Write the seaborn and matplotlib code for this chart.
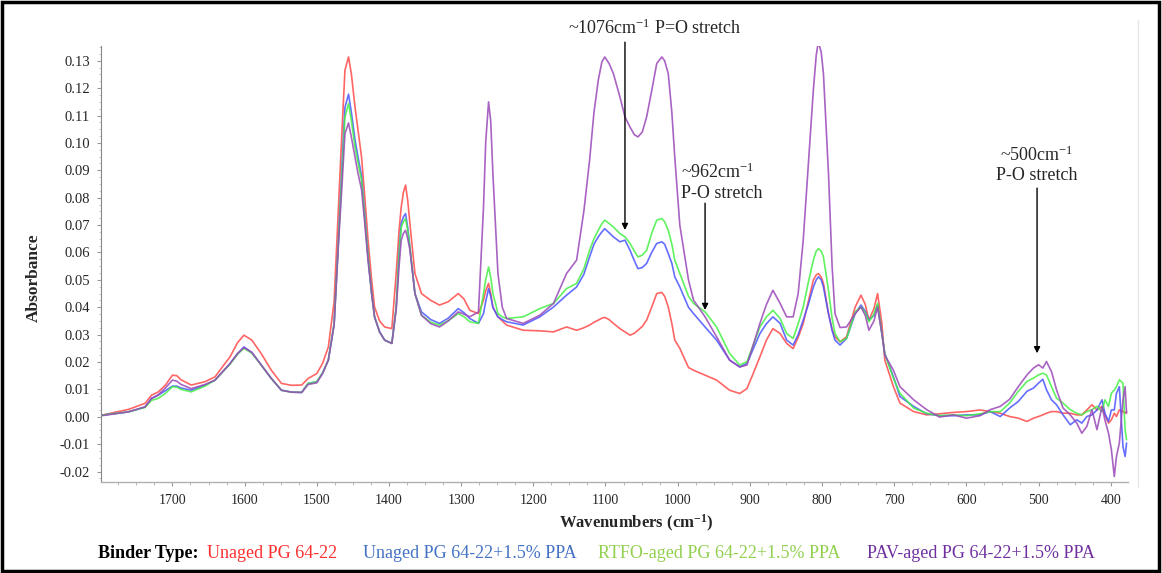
import numpy as np
import pandas as pd
import matplotlib
matplotlib.use("Agg")
import matplotlib.pyplot as plt
import seaborn as sns
from matplotlib.ticker import MultipleLocator, FixedLocator
from matplotlib.lines import Line2D
from matplotlib.patches import Rectangle

# ---------------- data ----------------
# rows: wavenumber, Unaged, Unaged+PPA, RTFO+PPA, PAV+PPA
wavenumber = [1798, 1761, 1738, 1729, 1720, 1710, 1700, 1694, 1688, 1674, 1655, 1641, 1620, 1610,
              1601, 1590, 1577, 1563, 1549, 1535, 1521, 1512, 1500, 1492, 1484, 1476, 1470, 1465,
              1461, 1456, 1452, 1447, 1443, 1438, 1434, 1429, 1424, 1420, 1413, 1406, 1396, 1390,
              1386, 1383, 1380, 1377, 1374, 1371, 1364, 1355, 1342, 1330, 1318, 1304, 1296, 1288,
              1276, 1269, 1266, 1262, 1259, 1256, 1252, 1249, 1243, 1237, 1214, 1191, 1172, 1154,
              1140, 1130, 1122, 1116, 1110, 1105, 1101, 1095, 1089, 1080, 1073, 1066, 1060, 1055,
              1049, 1043, 1036, 1029, 1022, 1018, 1013, 1008, 1004, 997, 985, 978, 962, 946, 928,
              914, 904, 895, 886, 877, 868, 858, 849, 840, 833, 826, 819, 812, 808, 805, 801, 798,
              791, 786, 782, 775, 766, 754, 746, 740, 735, 728, 723, 717, 713, 701, 692, 673, 655,
              637, 618, 600, 581, 567, 553, 540, 528, 516, 507, 500, 494, 489, 482, 475, 466, 456,
              447, 440, 433, 426, 419, 412, 408, 403, 399, 395, 392, 388, 383, 380, 378]

unaged = [0.0006, 0.0027, 0.0049, 0.0079, 0.0090, 0.0115, 0.0152, 0.0150, 0.0135, 0.0116, 0.0128,
          0.0146, 0.0220, 0.0270, 0.0298, 0.0280, 0.0231, 0.0170, 0.0122, 0.0115, 0.0116, 0.0140,
          0.0158, 0.0195, 0.0255, 0.0420, 0.0766, 0.1050, 0.1265, 0.1314, 0.1250, 0.1130, 0.1050,
          0.0949, 0.0820, 0.0645, 0.0500, 0.0401, 0.0350, 0.0328, 0.0322, 0.0523, 0.0680, 0.0766,
          0.0820, 0.0846, 0.0790, 0.0706, 0.0523, 0.0450, 0.0425, 0.0408, 0.0420, 0.0450, 0.0430,
          0.0389, 0.0377, 0.0426, 0.0460, 0.0487, 0.0450, 0.0400, 0.0380, 0.0365, 0.0350, 0.0335,
          0.0316, 0.0314, 0.0310, 0.0328, 0.0316, 0.0325, 0.0335, 0.0345, 0.0353, 0.0360, 0.0363,
          0.0355, 0.0341, 0.0322, 0.0310, 0.0298, 0.0305, 0.0316, 0.0330, 0.0353, 0.0400, 0.0450,
          0.0454, 0.0440, 0.0401, 0.0340, 0.0280, 0.0250, 0.0180, 0.0170, 0.0152, 0.0134, 0.0097,
          0.0085, 0.0103, 0.0160, 0.0219, 0.0280, 0.0322, 0.0304, 0.0268, 0.0249, 0.0290, 0.0341,
          0.0420, 0.0499, 0.0518, 0.0523, 0.0510, 0.0487, 0.0377, 0.0320, 0.0292, 0.0274, 0.0292,
          0.0401, 0.0444, 0.0410, 0.0353, 0.0395, 0.0450, 0.0341, 0.0207, 0.0110, 0.0050, 0.0019,
          0.0007, 0.0011, 0.0016, 0.0019, 0.0025, 0.0019, 0.0013, 0.0001, -0.0005, -0.0017, -0.0005,
          0.0001, 0.0007, 0.0013, 0.0019, 0.0019, 0.0013, 0.0013, 0.0007, 0.0007, 0.0025, 0.0044,
          0.0025, 0.0038, 0.0007, -0.0023, -0.0011, 0.0013, 0.0001, 0.0025, 0.0019, 0.0013, 0.0019]

unaged_ppa = [0.0006, 0.0018, 0.0036, 0.0067, 0.0079, 0.0095, 0.0112, 0.0112, 0.0105, 0.0097, 0.0115,
              0.0134, 0.0195, 0.0230, 0.0255, 0.0235, 0.0189, 0.0140, 0.0097, 0.0090, 0.0089, 0.0122,
              0.0128, 0.0160, 0.0207, 0.0340, 0.0645, 0.0920, 0.1130, 0.1178, 0.1110, 0.1010, 0.0950,
              0.0880, 0.0750, 0.0584, 0.0450, 0.0365, 0.0310, 0.0280, 0.0268, 0.0400, 0.0600, 0.0706,
              0.0730, 0.0742, 0.0690, 0.0620, 0.0450, 0.0383, 0.0355, 0.0341, 0.0360, 0.0395, 0.0380,
              0.0359, 0.0341, 0.0377, 0.0420, 0.0468, 0.0440, 0.0400, 0.0380, 0.0365, 0.0355, 0.0347,
              0.0335, 0.0365, 0.0401, 0.0444, 0.0474, 0.0520, 0.0584, 0.0630, 0.0657, 0.0675, 0.0687,
              0.0672, 0.0657, 0.0639, 0.0645, 0.0608, 0.0570, 0.0541, 0.0545, 0.0560, 0.0600, 0.0633,
              0.0639, 0.0630, 0.0596, 0.0560, 0.0511, 0.0474, 0.0400, 0.0377, 0.0328, 0.0280, 0.0207,
              0.0182, 0.0195, 0.0250, 0.0304, 0.0340, 0.0365, 0.0341, 0.0280, 0.0262, 0.0300, 0.0353,
              0.0410, 0.0474, 0.0500, 0.0511, 0.0500, 0.0474, 0.0377, 0.0315, 0.0280, 0.0262, 0.0286,
              0.0377, 0.0408, 0.0385, 0.0353, 0.0370, 0.0408, 0.0304, 0.0231, 0.0146, 0.0074, 0.0038,
              0.0011, 0.0004, 0.0004, 0.0007, 0.0007, 0.0019, 0.0001, 0.0032, 0.0056, 0.0093, 0.0105,
              0.0123, 0.0137, 0.0099, 0.0062, 0.0044, 0.0007, -0.0029, -0.0011, -0.0023, 0.0001, 0.0007,
              0.0025, 0.0062, 0.0013, -0.0017, 0.0025, 0.0025, 0.0086, 0.0110, -0.0108, -0.0145, -0.0096]

rtfo_ppa = [0.0006, 0.0018, 0.0034, 0.0060, 0.0067, 0.0085, 0.0110, 0.0108, 0.0100, 0.0091, 0.0112,
            0.0134, 0.0193, 0.0228, 0.0250, 0.0232, 0.0189, 0.0140, 0.0097, 0.0090, 0.0089, 0.0122,
            0.0128, 0.0160, 0.0207, 0.0340, 0.0645, 0.0900, 0.1095, 0.1144, 0.1080, 0.0985, 0.0930,
            0.0864, 0.0740, 0.0584, 0.0450, 0.0365, 0.0310, 0.0280, 0.0268, 0.0400, 0.0590, 0.0693,
            0.0712, 0.0724, 0.0680, 0.0620, 0.0450, 0.0371, 0.0345, 0.0335, 0.0350, 0.0377, 0.0365,
            0.0347, 0.0341, 0.0450, 0.0500, 0.0547, 0.0510, 0.0450, 0.0410, 0.0377, 0.0365, 0.0359,
            0.0365, 0.0395, 0.0414, 0.0468, 0.0487, 0.0540, 0.0608, 0.0650, 0.0681, 0.0705, 0.0718,
            0.0706, 0.0693, 0.0669, 0.0657, 0.0633, 0.0605, 0.0584, 0.0590, 0.0608, 0.0670, 0.0718,
            0.0724, 0.0712, 0.0681, 0.0630, 0.0572, 0.0523, 0.0440, 0.0414, 0.0383, 0.0328, 0.0231,
            0.0189, 0.0201, 0.0265, 0.0328, 0.0365, 0.0389, 0.0359, 0.0304, 0.0286, 0.0340, 0.0401,
            0.0490, 0.0572, 0.0605, 0.0614, 0.0605, 0.0584, 0.0462, 0.0360, 0.0304, 0.0274, 0.0286,
            0.0383, 0.0401, 0.0380, 0.0347, 0.0375, 0.0414, 0.0304, 0.0231, 0.0140, 0.0086, 0.0032,
            0.0013, 0.0004, 0.0007, 0.0004, 0.0011, 0.0019, 0.0019, 0.0050, 0.0093, 0.0129, 0.0141,
            0.0153, 0.0159, 0.0153, 0.0110, 0.0068, 0.0050, 0.0026, 0.0013, 0.0007, 0.0019, 0.0026,
            0.0038, 0.0019, 0.0062, 0.0038, 0.0086, 0.0098, 0.0110, 0.0135, 0.0123, -0.0047, -0.0084]

pav_ppa = [0.0004, 0.0018, 0.0036, 0.0067, 0.0079, 0.0105, 0.0134, 0.0130, 0.0118, 0.0103, 0.0118,
           0.0134, 0.0195, 0.0230, 0.0253, 0.0235, 0.0189, 0.0140, 0.0097, 0.0090, 0.0089, 0.0118,
           0.0124, 0.0158, 0.0207, 0.0335, 0.0630, 0.0850, 0.1034, 0.1073, 0.1020, 0.0949, 0.0890,
           0.0830, 0.0720, 0.0570, 0.0450, 0.0365, 0.0310, 0.0280, 0.0268, 0.0390, 0.0550, 0.0645,
           0.0670, 0.0681, 0.0650, 0.0610, 0.0450, 0.0371, 0.0340, 0.0328, 0.0350, 0.0383, 0.0375,
           0.0365, 0.0383, 0.0766, 0.1000, 0.1150, 0.1080, 0.0888, 0.0680, 0.0523, 0.0400, 0.0359,
           0.0341, 0.0371, 0.0414, 0.0523, 0.0572, 0.0750, 0.0937, 0.1110, 0.1229, 0.1296, 0.1314,
           0.1290, 0.1253, 0.1168, 0.1095, 0.1058, 0.1030, 0.1022, 0.1040, 0.1095, 0.1190, 0.1290,
           0.1314, 0.1300, 0.1253, 0.1110, 0.0949, 0.0700, 0.0500, 0.0426, 0.0365, 0.0292, 0.0207,
           0.0182, 0.0189, 0.0265, 0.0341, 0.0410, 0.0462, 0.0414, 0.0365, 0.0365, 0.0450, 0.0645,
           0.0920, 0.1192, 0.1320, 0.1370, 0.1330, 0.1253, 0.0888, 0.0550, 0.0377, 0.0326, 0.0328,
           0.0377, 0.0401, 0.0370, 0.0316, 0.0350, 0.0401, 0.0304, 0.0225, 0.0170, 0.0110, 0.0062,
           0.0026, -0.0001, 0.0007, -0.0005, 0.0004, 0.0026, 0.0038, 0.0064, 0.0110, 0.0153, 0.0178,
           0.0190, 0.0178, 0.0202, 0.0165, 0.0098, 0.0032, 0.0007, -0.0023, -0.0060, -0.0035, 0.0026,
           -0.0047, 0.0038, -0.0011, -0.0060, -0.0120, -0.0218, -0.0145, -0.0096, 0.0062, 0.0110, 0.0013]

series_names = ["Unaged PG 64-22", "Unaged PG 64-22+1.5% PPA",
                "RTFO-aged PG 64-22+1.5% PPA", "PAV-aged PG 64-22+1.5% PPA"]
line_colors = ["#ff4a4a", "#4a55ff", "#44f044", "#9a48b8"]
text_colors = ["#ff3030", "#4472c4", "#92d050", "#7030a0"]

x_ticks = [1700, 1600, 1500, 1400, 1300, 1200, 1100, 1000, 900, 800, 700, 600, 500, 400]
y_ticks = [-0.02, -0.01, 0.00, 0.01, 0.02, 0.03, 0.04, 0.05, 0.06, 0.07, 0.08, 0.09, 0.10,
           0.11, 0.12, 0.13]

# ---------------- style ----------------
sns.set_style("white")
plt.rcParams["font.family"] = ["Liberation Serif", "DejaVu Serif"]
plt.rcParams["mathtext.fontset"] = "custom"
plt.rcParams["mathtext.rm"] = "Liberation Serif"
plt.rcParams["mathtext.bf"] = "Liberation Serif:bold"
plt.rcParams["mathtext.default"] = "regular"

W, H = 1162, 573
fig = plt.figure(figsize=(W / 100, H / 100), dpi=100)
fig.patch.set_facecolor("white")


def fx(px):
    return px / W


def fy(py):
    return 1 - py / H


ax = fig.add_axes([fx(101), fy(481.7), fx(1128) - fx(101), fy(46) - fy(481.7)])

frames = []
for name, vals in zip(series_names, [unaged, unaged_ppa, rtfo_ppa, pav_ppa]):
    frames.append(pd.DataFrame({"wavenumber": wavenumber, "absorbance": vals, "binder": name}))
df = pd.concat(frames, ignore_index=True)

sns.lineplot(data=df, x="wavenumber", y="absorbance", hue="binder",
             palette=dict(zip(series_names, line_colors)), hue_order=series_names,
             estimator=None, sort=False, linewidth=1.2, alpha=0.85, legend=False, ax=ax)

ax.set_xlim(1799, 376)
ax.set_ylim(-0.0237, 0.1354)

ax.xaxis.set_major_locator(FixedLocator(x_ticks))
ax.xaxis.set_minor_locator(MultipleLocator(25))
ax.yaxis.set_major_locator(FixedLocator(y_ticks))
ax.yaxis.set_minor_locator(MultipleLocator(0.0025))
ax.set_xticklabels([str(v) for v in x_ticks])
ax.set_yticklabels([f"{v:.2f}" for v in y_ticks])

ax.tick_params(axis="x", which="major", length=3, width=0.8, color="#999999",
               labelsize=10, pad=6, bottom=True)
ax.tick_params(axis="x", which="minor", length=2, width=0.6, color="#aaaaaa", bottom=True)
ax.tick_params(axis="y", which="major", length=3, width=0.8, color="#999999",
               labelsize=10.5, pad=5, left=True)
ax.tick_params(axis="y", which="minor", length=1.5, width=0.6, color="#bbbbbb", left=True)

for s in ["top", "right"]:
    ax.spines[s].set_visible(False)
ax.spines["left"].set_color("#888888")
ax.spines["left"].set_linewidth(0.8)
ax.spines["bottom"].set_color("#b0b0b0")
ax.spines["bottom"].set_linewidth(1.0)

ax.set_xlabel("")
ax.set_ylabel("")
fig.text(fx(636), fy(523), "Wavenumbers (cm$^{-1}$)", ha="center", va="center",
         fontsize=12, fontweight="bold")
fig.text(fx(34), fy(278), "Absorbance", ha="center", va="center", rotation=90,
         fontsize=12.5, fontweight="bold")

# ---------------- annotations ----------------
arrow_kw = dict(arrowstyle="-|>", color="black", lw=1.0, mutation_scale=9, shrinkA=0, shrinkB=0)
ax.annotate("", xy=(1073, 0.0682), xytext=(1073, 0.1368), arrowprops=arrow_kw,
            annotation_clip=False)
ax.annotate("", xy=(962, 0.0390), xytext=(962, 0.0780), arrowprops=arrow_kw,
            annotation_clip=False)
ax.annotate("", xy=(502, 0.0232), xytext=(502, 0.0835), arrowprops=arrow_kw,
            annotation_clip=False)

fig.text(fx(655), fy(28), "~1076cm$^{-1}$ P=O stretch", ha="center", va="center", fontsize=13)
fig.text(fx(718), fy(172), "~962cm$^{-1}$", ha="center", va="center", fontsize=13)
fig.text(fx(722), fy(193), "P-O stretch", ha="center", va="center", fontsize=13)
fig.text(fx(1037), fy(155), "~500cm$^{-1}$", ha="center", va="center", fontsize=13)
fig.text(fx(1037), fy(176), "P-O stretch", ha="center", va="center", fontsize=13)

# ---------------- legend row ----------------
legend_y = fy(553)
fig.text(fx(98), legend_y, "Binder Type:", ha="left", va="center", fontsize=13,
         fontweight="bold", color="black")
for name, col, x0 in zip(series_names, text_colors, [207, 363, 598, 867]):
    fig.text(fx(x0), legend_y, name, ha="left", va="center", fontsize=13, color=col)

# light panel edge and outer frame
fig.add_artist(Line2D([fx(1138), fx(1138)], [fy(487), fy(20)], color="#e6e6e6", lw=1.0))
fig.add_artist(Rectangle((0.0015, 0.003), 0.996, 0.994, transform=fig.transFigure,
                         fill=False, edgecolor="black", linewidth=2.5))

fig.savefig("out.png", dpi=100, facecolor="white")
